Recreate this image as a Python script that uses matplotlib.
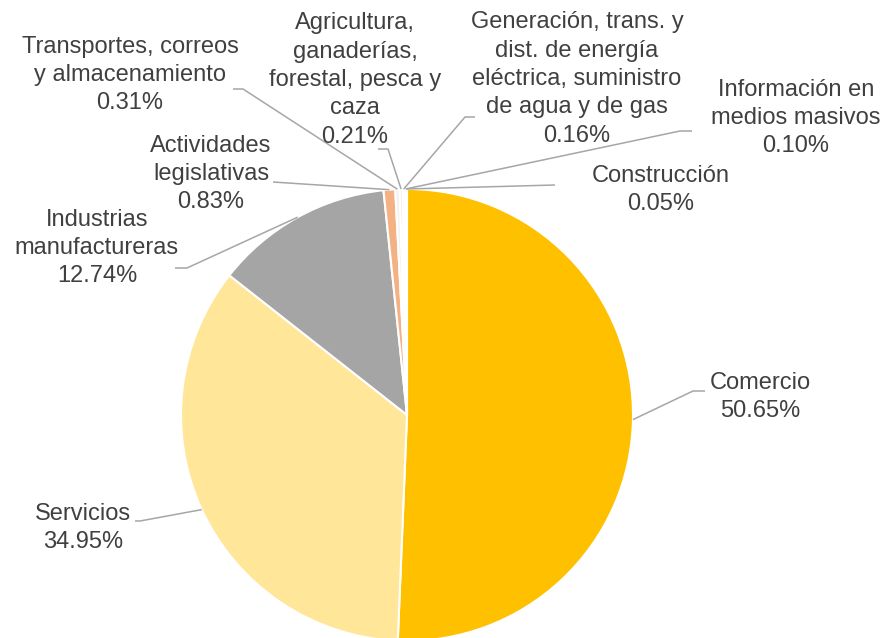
import numpy as np
import matplotlib
matplotlib.use('Agg')
import matplotlib.pyplot as plt

plt.rcParams['font.family'] = ['Liberation Sans', 'DejaVu Sans']

labels = ['Comercio', 'Servicios', 'Industrias\nmanufactureras',
          'Actividades\nlegislativas', 'Transportes, correos\ny almacenamiento',
          'Agricultura,\nganaderías,\nforestal, pesca y\ncaza',
          'Generación, trans. y\ndist. de energía\neléctrica, suministro\nde agua y de gas',
          'Información en\nmedios masivos', 'Construcción']
shares = [50.65, 34.95, 12.74, 0.83, 0.31, 0.21, 0.16, 0.10, 0.05]
colors = ['#FFC000', '#FFE699', '#A5A5A5', '#F4B183', '#F2F2F2',
          '#FBE5D6', '#EDEDED', '#DEEBF7', '#E2F0D9']

W, H = 885, 638
# label layout in pixels from top-left: text centre, elbow, line end
text_pos = [(760, 397), (83, 528), (97, 248), (211, 174), (130, 75),
            (355, 80), (577, 79), (796, 118), (661, 190)]
elbows = [(693, 391), (140, 521), (187, 268), (273, 182), (243, 89),
          (388, 149), (465, 117), (680, 131), (555, 185)]
ends = [(705, 391), (135, 521), (175, 268), (273, 182), (233, 89),
        (378, 149), (475, 117), (692, 131), (555, 185)]

fig = plt.figure(figsize=(8.85, 6.38), dpi=100)
ax = fig.add_axes([0, 0, 1, 1])

cx, cy, r = 407, H - 415, 226
wedges, _ = ax.pie(shares, colors=colors, startangle=90, counterclock=False,
                   center=(cx, cy), radius=r,
                   wedgeprops=dict(edgecolor='white', linewidth=1.5))

for w, lab, val, tp, el, en in zip(wedges, labels, shares, text_pos, elbows, ends):
    mid = np.deg2rad((w.theta1 + w.theta2) / 2)
    px, py = cx + r * np.cos(mid), cy + r * np.sin(mid)
    ax.plot([px, el[0], en[0]], [py, H - el[1], H - en[1]],
            color='#A6A6A6', lw=1.1, solid_capstyle='butt', zorder=3)
    ax.text(tp[0], H - tp[1], f'{lab}\n{val:.2f}%', ha='center', va='center',
            multialignment='center', fontsize=17, color='#404040',
            linespacing=1.38)

ax.set_xlim(0, W)
ax.set_ylim(0, H)
ax.set_aspect('equal')
ax.axis('off')

fig.savefig('out.png', dpi=100)
